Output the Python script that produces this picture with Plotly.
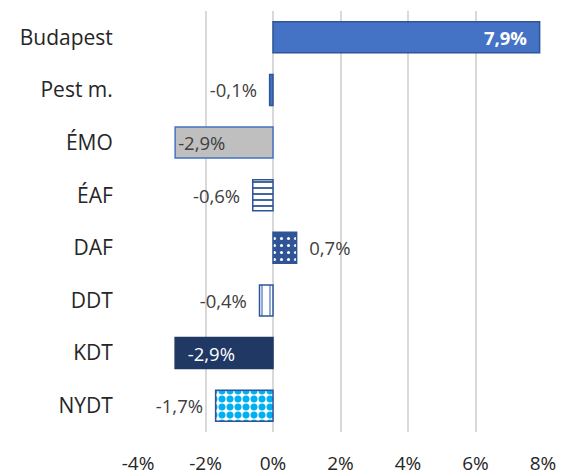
import plotly.graph_objects as go

categories = ["Budapest", "Pest m.", "ÉMO", "ÉAF", "DAF", "DDT", "KDT", "NYDT"]
values = [7.9, -0.1, -2.9, -0.6, 0.7, -0.4, -2.9, -1.7]
tick_vals = [-4, -2, 0, 2, 4, 6, 8]
tick_text = ["-4%", "-2%", "0%", "2%", "4%", "6%", "8%"]

fill_colors = ["#4472C4", "#4472C4", "#BFBFBF", "white", "#2F5597", "white", "#203864", "white"]
line_colors = ["#2F5597", "#2F5597", "#4472C4", "#2F5597", "#2F5597", "#2F5597", "#203864", "#2F5597"]
shapes = ["", "", "", "-", ".", "|", "", "."]
fg_colors = ["#4472C4", "#4472C4", "#BFBFBF", "#2F5597", "white", "#4472C4", "#203864", "#00B0F0"]
bg_colors = ["#4472C4", "#4472C4", "#BFBFBF", "white", "#2F5597", "white", "#203864", "white"]
sizes = [8, 8, 8, 6, 7, 8, 8, 8]
solidity = [0.3, 0.3, 0.3, 0.3, 0.15, 0.15, 0.3, 0.6]
text_pos = ["inside", "outside", "inside", "outside", "outside", "outside", "inside", "outside"]
text_colors = ["white", "#404040", "#404040", "#404040", "#404040", "#404040", "white", "#404040"]

FONT = "Open Sans"
NB = "\u00a0"

fig = go.Figure()
for i, cat in enumerate(categories):
    pattern = dict(shape=shapes[i])
    if shapes[i]:
        pattern.update(fgcolor=fg_colors[i], bgcolor=bg_colors[i], size=sizes[i],
                       solidity=solidity[i], fillmode="replace")
    if text_pos[i] == "outside":
        tmpl = ("%{x:.1f}%" + NB * 2) if values[i] < 0 else (NB * 2 + "%{x:.1f}%")
    elif i == 0:
        tmpl = "<b>%{x:.1f}%</b>" + NB * 2
    elif i == 6:
        tmpl = NB * 2 + "%{x:.1f}%"
    else:
        tmpl = "%{x:.1f}%"
    fig.add_trace(go.Bar(
        x=[values[i]],
        y=[cat],
        orientation="h",
        width=0.59,
        marker=dict(color=fill_colors[i], line=dict(color=line_colors[i], width=1.5),
                    pattern=pattern),
        texttemplate=tmpl,
        textposition=text_pos[i],
        insidetextanchor="end",
        textfont=dict(size=18.5, color=text_colors[i], family=FONT),
        cliponaxis=False,
        hoverinfo="x+y",
    ))

fig.update_layout(
    width=556, height=468,
    margin=dict(l=130, r=21, t=3, b=44),
    paper_bgcolor="white", plot_bgcolor="white",
    separators=", ",
    showlegend=False,
    barmode="overlay",
    uniformtext=dict(minsize=8, mode="show"),
    font=dict(family=FONT, color="#262626"),
)
fig.update_xaxes(
    range=[-4, 8], tickvals=tick_vals, ticktext=tick_text,
    showgrid=True, gridcolor="#D9D9D9", gridwidth=1.5,
    zeroline=True, zerolinecolor="#D9D9D9", zerolinewidth=1.5,
    tickfont=dict(size=19, color="#262626"),
    ticks="outside", ticklen=14, tickcolor="rgba(0,0,0,0)",
    showline=False, fixedrange=True, automargin=False,
)
fig.update_yaxes(
    categoryorder="array", categoryarray=categories,
    range=[7.5, -0.5], showgrid=False,
    tickfont=dict(size=21, color="#262626"),
    ticks="outside", ticklen=20, tickcolor="rgba(0,0,0,0)",
    showline=False, automargin=False,
)

fig.write_html("out.html")
